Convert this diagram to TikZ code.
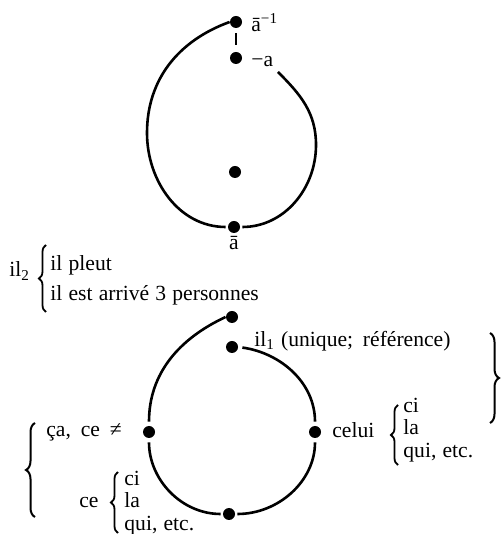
\documentclass[tikz,border=0pt]{standalone}
\usepackage{fontspec}
\setmainfont{Liberation Serif}[WordSpace=1.15]
\usetikzlibrary{positioning, decorations.pathreplacing}
\tikzset{
  dot/.style={
    circle,
    fill=black,
    inner sep=0pt,
    minimum size=6pt
  },
  curve/.style={
    line width=1.3pt
  },
  lbl/.style={
    inner sep=0pt,
    anchor=west,
    align=left,
    font=\fontsize{10.8pt}{11.3pt}\selectfont
  },
  bracket/.style={
    decorate,
    decoration={brace, amplitude=3.5pt},
    line width=0.9pt
  },
  bigbracket/.style={
    decorate,
    decoration={brace, amplitude=4.5pt},
    line width=1pt
  }
}

\begin{document}
\begin{tikzpicture}[x=0.5pt, y=0.5pt]
  \useasboundingbox (0,0) rectangle (500,534);

  % Upper loop
  \node [dot] (abarinv) at (236,512) {};
  \node [dot] (minusa)  at (236,476) {};
  \node [dot] (mid)     at (235,362) {};
  \node [dot] (abar)    at (234,307) {};

  \node [lbl] (abarinv-l) at (251,511) {ā\textsuperscript{−1}};
  \node [lbl] (minusa-l)  at (251,472) {−a};
  \node [lbl, anchor=center] (abar-l) at (234,291) {ā};

  \coordinate (upL)  at (147,401);
  \coordinate (upR0) at (278,462);
  \coordinate (upR)  at (316,389);

  \draw [curve, shorten <=2.5pt, shorten >=3.5pt] (abarinv) -- (minusa);
  \draw [curve, shorten >=1pt] (abarinv.west) to[out=200, in=90] (upL)
        to[out=-90, in=180] (abar.west);
  \draw [curve, shorten >=1pt] (upR0) to[out=-45, in=90] (upR)
        to[out=-90, in=0] (abar.east);

  % il_2 and its two readings
  \node [lbl] (il2) at (9,263) {il\textsubscript{2}};
  \node [lbl] (il2-list) at (50,254) {il pleut\\[3.8pt]il est arrivé 3 personnes};
  \coordinate (il2-b1) at (46,222);
  \coordinate (il2-b2) at (46,289);
  \draw [bracket] (il2-b1) -- (il2-b2);

  % Lower loop
  \node [dot] (top)   at (232,217) {};
  \node [dot] (il1)   at (232,187) {};
  \node [dot] (left)  at (149,102) {};
  \node [dot] (right) at (315,102) {};
  \node [dot] (bot)   at (229,20)  {};

  \draw [curve, shorten >=2pt] (top.west) to[out=205, in=90] (left.north);
  \draw [curve, shorten <=2pt, shorten >=1pt] (left.south) to[out=-90, in=180] (bot.west);
  \draw [curve, shorten <=2pt, shorten >=2pt] (il1.east) to[out=-8, in=90] (right.north);
  \draw [curve, shorten <=2pt, shorten >=1pt] (right.south) to[out=-90, in=0] (bot.east);

  \node [lbl] (il1-l) at (254,193) {il\textsubscript{1} (unique;\, référence)};

  % celui ci / la / qui
  \node [lbl] (celui) at (332,104) {celui};
  \node [lbl] (celui-list) at (403,104) {ci\\la\\qui, etc.};
  \coordinate (cel-b1) at (398,69);
  \coordinate (cel-b2) at (398,129);
  \draw [bracket] (cel-b1) -- (cel-b2);

  % ça, ce and ce ci / la / qui
  \node [lbl] (ca) at (46,102) {ça,\, ce\, ≠};
  \node [lbl] (ce) at (79,31) {ce};
  \node [lbl] (ce-list) at (124,31) {ci\\la\\qui, etc.};
  \coordinate (ce-b1) at (118,1);
  \coordinate (ce-b2) at (118,62);
  \draw [bracket] (ce-b1) -- (ce-b2);

  % outer braces
  \coordinate (rb1) at (490,201);
  \coordinate (rb2) at (490,111);
  \draw [bigbracket] (rb1) -- (rb2);
  \coordinate (lb1) at (35,17);
  \coordinate (lb2) at (35,111);
  \draw [bigbracket] (lb1) -- (lb2);
\end{tikzpicture}
\end{document}
